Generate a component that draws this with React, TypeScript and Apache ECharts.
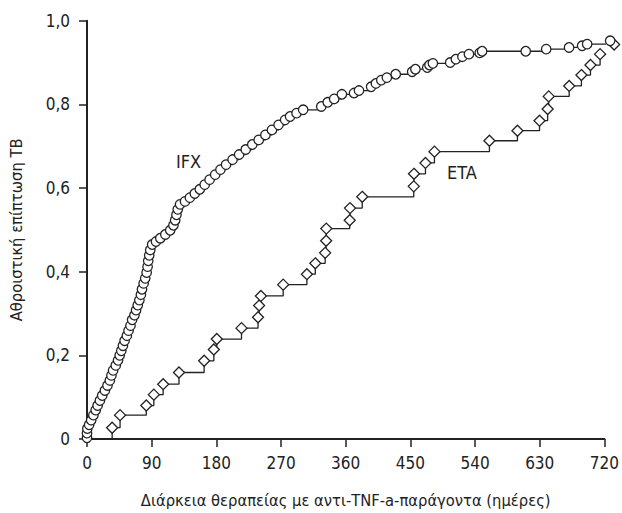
import React, { useEffect, useRef } from "react";
import * as echarts from "echarts";

const xTicks = [0, 90, 180, 270, 360, 450, 540, 630, 720];
const yTickLabels = ["0", "0,2", "0,4", "0,6", "0,8", "1,0"];

const ifxDays = [
  0, 0, 0.5, 3, 5.8, 8.9, 12.1, 14.8, 18, 21.2, 24.9, 28.5, 31.8, 34, 36.3, 40, 43.2, 45.5, 47.7, 50,
  52.3, 55.5, 57.8, 60.5, 62.8, 66, 68.3, 70.6, 72.9, 75, 76.5, 78.8, 81, 83, 84.3, 85.2, 86.6, 88,
  90.7, 96, 102, 109, 115.8, 120.3, 122.7, 124.5, 126.3, 129.5, 136.4, 143.2, 150, 157, 163.8, 170.6,
  178.4, 185.7, 193.5, 202.6, 211.7, 220.9, 230, 239, 248.3, 257.4, 266.6, 275.7, 282.6, 291.6, 300.8,
  326, 335, 344, 354.7, 371.6, 378.5, 395.4, 402, 409.5, 417.3, 429.6, 452.5, 457, 473.5, 476.6, 481.3,
  505.4, 513.3, 522.4, 531.5, 546.5, 549.8, 610.5, 639, 670.8, 689, 696, 728,
];
const ifxValues = [
  0.003, 0.014, 0.025, 0.034, 0.045, 0.057, 0.069, 0.08, 0.092, 0.104, 0.116, 0.128, 0.14, 0.152, 0.164,
  0.176, 0.188, 0.2, 0.211, 0.223, 0.235, 0.247, 0.259, 0.271, 0.285, 0.296, 0.308, 0.32, 0.332, 0.345,
  0.358, 0.372, 0.384, 0.398, 0.412, 0.426, 0.439, 0.452, 0.465, 0.472, 0.48, 0.489, 0.499, 0.511, 0.523,
  0.536, 0.549, 0.561, 0.568, 0.577, 0.587, 0.597, 0.608, 0.62, 0.632, 0.644, 0.656, 0.668, 0.68, 0.692,
  0.704, 0.715, 0.727, 0.739, 0.751, 0.763, 0.771, 0.779, 0.787, 0.795, 0.805, 0.813, 0.824, 0.827,
  0.833, 0.842, 0.85, 0.858, 0.864, 0.872, 0.878, 0.884, 0.888, 0.894, 0.898, 0.9, 0.908, 0.914, 0.92,
  0.923, 0.927, 0.927, 0.932, 0.936, 0.94, 0.944, 0.952,
];

const etaDays = [
  0, 35, 46, 82.5, 93, 106, 128, 163, 176.5, 180.6, 215, 238, 239.5, 242, 273, 306, 317.7, 331.4, 332.8,
  333, 365.6, 366, 383, 454.7, 455, 471, 483.5, 560, 599, 629.7, 641, 642.5, 671, 688, 700.6, 714, 733.5,
];
const etaValues = [
  0, 0.027, 0.057, 0.08, 0.106, 0.131, 0.159, 0.187, 0.214, 0.239, 0.265, 0.291, 0.319, 0.342, 0.369,
  0.394, 0.42, 0.445, 0.474, 0.503, 0.523, 0.552, 0.579, 0.604, 0.634, 0.66, 0.687, 0.713, 0.737, 0.761,
  0.789, 0.819, 0.844, 0.87, 0.894, 0.92, 0.943,
];

const FONT = "'Liberation Sans Narrow', 'DejaVu Sans Condensed', 'Liberation Sans', sans-serif";
const INK = "#222";

export default function App() {
  const ref = useRef<HTMLDivElement>(null);
  useEffect(() => {
    if (!ref.current) return;
    const chart = echarts.init(ref.current, undefined, { renderer: "svg" });
    const ifxData = ifxDays.map((d, i) => [d, ifxValues[i]]);
    const etaData = etaDays.map((d, i) =>
      i === 0 ? { value: [d, etaValues[i]], symbol: "none" } : { value: [d, etaValues[i]] }
    );
    chart.setOption({
      animation: false,
      backgroundColor: "#fff",
      grid: { left: 80.5, right: 16, top: 20.7, bottom: 72.5 },
      xAxis: {
        type: "value",
        min: xTicks[0],
        max: xTicks[xTicks.length - 1],
        interval: 90,
        name: "Διάρκεια θεραπείας με αντι-TNF-a-παράγοντα (ημέρες)",
        nameLocation: "middle",
        nameGap: 53,
        nameTextStyle: { fontFamily: FONT, fontSize: 16.4, color: INK },
        axisLine: { onZero: false, lineStyle: { color: INK, width: 2 } },
        axisTick: { show: true, length: 8, lineStyle: { color: INK, width: 1.5 } },
        axisLabel: { fontFamily: FONT, fontSize: 17, color: INK, margin: 15 },
        splitLine: { show: false },
      },
      yAxis: {
        type: "value",
        min: 0,
        max: 1,
        interval: 0.2,
        name: "Αθροιστική επίπτωση ΤΒ",
        nameLocation: "middle",
        nameGap: 63,
        nameTextStyle: { fontFamily: FONT, fontSize: 16.4, color: INK },
        axisLine: { show: true, lineStyle: { color: INK, width: 2 } },
        axisTick: { show: true, length: 8, lineStyle: { color: INK, width: 1.5 } },
        axisLabel: {
          fontFamily: FONT,
          fontSize: 17,
          color: INK,
          margin: 17,
          formatter: (v: number) => yTickLabels[Math.round(v / 0.2)],
        },
        splitLine: { show: false },
      },
      series: [
        {
          type: "line",
          name: "IFX",
          data: ifxData,
          step: "end",
          clip: false,
          symbol: "circle",
          symbolSize: 9.5,
          showAllSymbol: true,
          lineStyle: { color: INK, width: 1.3 },
          itemStyle: { color: "#fff", borderColor: INK, borderWidth: 1.3 },
          z: 3,
        },
        {
          type: "line",
          name: "ETA",
          data: etaData,
          step: "end",
          clip: false,
          symbol: "diamond",
          symbolSize: 11,
          showAllSymbol: true,
          lineStyle: { color: INK, width: 1.3 },
          itemStyle: { color: "#fff", borderColor: INK, borderWidth: 1.3 },
          z: 2,
        },
      ],
      graphic: [
        {
          type: "text",
          left: 176,
          top: 152,
          style: { text: "IFX", fontFamily: FONT, fontSize: 18, fill: INK },
        },
        {
          type: "text",
          left: 447,
          top: 163,
          style: { text: "ETA", fontFamily: FONT, fontSize: 18, fill: INK },
        },
      ],
    });
    return () => chart.dispose();
  }, []);
  return (
    <div
      ref={ref}
      style={{ position: "fixed", left: 0, top: 0, width: 622, height: 513, background: "#fff" }}
    />
  );
}
